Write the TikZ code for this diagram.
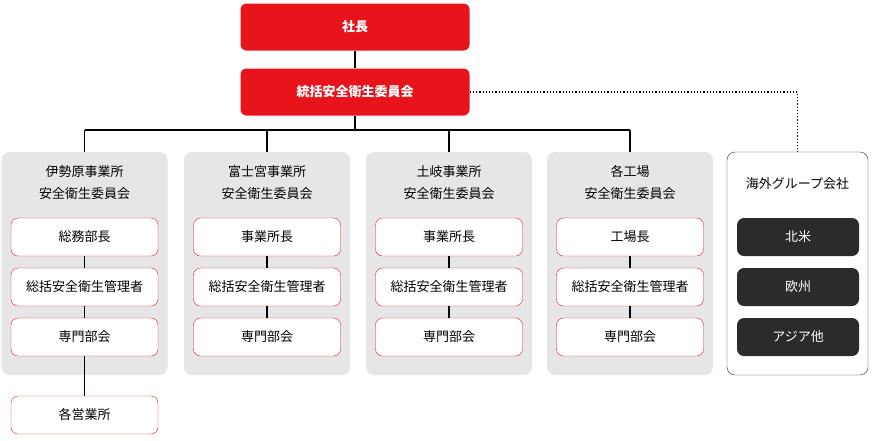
\documentclass[tikz,border=0pt]{standalone}
\usepackage{fontspec}
\setmainfont{Noto Sans CJK JP}
\usetikzlibrary{positioning}
\definecolor{tkred}{HTML}{E8141C}
\definecolor{tkgray}{HTML}{E6E6E6}
\definecolor{tkdark}{HTML}{2B2B2E}
\tikzset{
  topbox/.style={draw=none,fill=tkred,rounded corners=6pt,minimum width=229pt,minimum height=47pt,text=white,font=\fontsize{13}{16}\selectfont\bfseries},
  sitebox/.style={fill=tkgray,rounded corners=8pt,minimum width=166pt,minimum height=223pt},
  unitbox/.style={draw=tkred,fill=white,rounded corners=7pt,minimum width=147pt,minimum height=38pt,font=\fontsize{13}{16}\selectfont},
  darkbox/.style={fill=tkdark,rounded corners=7pt,minimum width=122pt,minimum height=38pt,text=white,font=\fontsize{13}{16}\selectfont},
  headtext/.style={align=center,font=\fontsize{13}{22}\selectfont},
  link/.style={draw=black,line width=1.2pt}
}
\begin{document}
\begin{tikzpicture}[x=1pt,y=-1pt]
\useasboundingbox (0,0) rectangle (872,440);
\node[topbox] (pres) at (355,27) {社長};
\node[topbox] (comm) at (355,92) {統括安全衛生委員会};
\coordinate (bar) at (355,130);
% sites
\foreach \n/\x/\ta/\tb/\ua in {1/84.5/伊勢原事業所/総務部長,2/267/富士宮事業所/事業所長,3/449/土岐事業所/事業所長,4/630/各工場/工場長}{
  \node[sitebox] (site\n) at (\x,263.5) {};
  \node[headtext] (head\n) at (\x,183) {\ta\\安全衛生委員会};
  \node[unitbox] (chief\n) at (\x,237) {\tb};
  \node[unitbox] (mgr\n) at (\x,287) {総括安全衛生管理者};
  \node[unitbox] (dept\n) at (\x,337) {専門部会};
  \draw[link] (chief\n) -- (mgr\n);
  \draw[link] (mgr\n) -- (dept\n);
  \draw[link] (site\n.north) -- (site\n.north |- bar);
}
\node[unitbox] (office) at (84.5,415) {各営業所};
\draw[link] (dept1) -- (office);
\draw[link] (pres) -- (comm);
\draw[link] (comm) -- (bar);
\draw[link] (site1.north |- bar) -- (site4.north |- bar);
% overseas
\node[draw=tkdark,fill=white,rounded corners=8pt,minimum width=141pt,minimum height=223pt] (abroad) at (797.5,263.5) {};
\node[headtext] (abroadhead) at (797.5,184) {海外グループ会社};
\node[darkbox] (na) at (798,237) {北米};
\node[darkbox] (eu) at (798,287) {欧州};
\node[darkbox] (asia) at (798,337) {アジア他};
\draw[dotted,line width=1.2pt] (comm.east) -| (abroad.north);
\end{tikzpicture}
\end{document}
